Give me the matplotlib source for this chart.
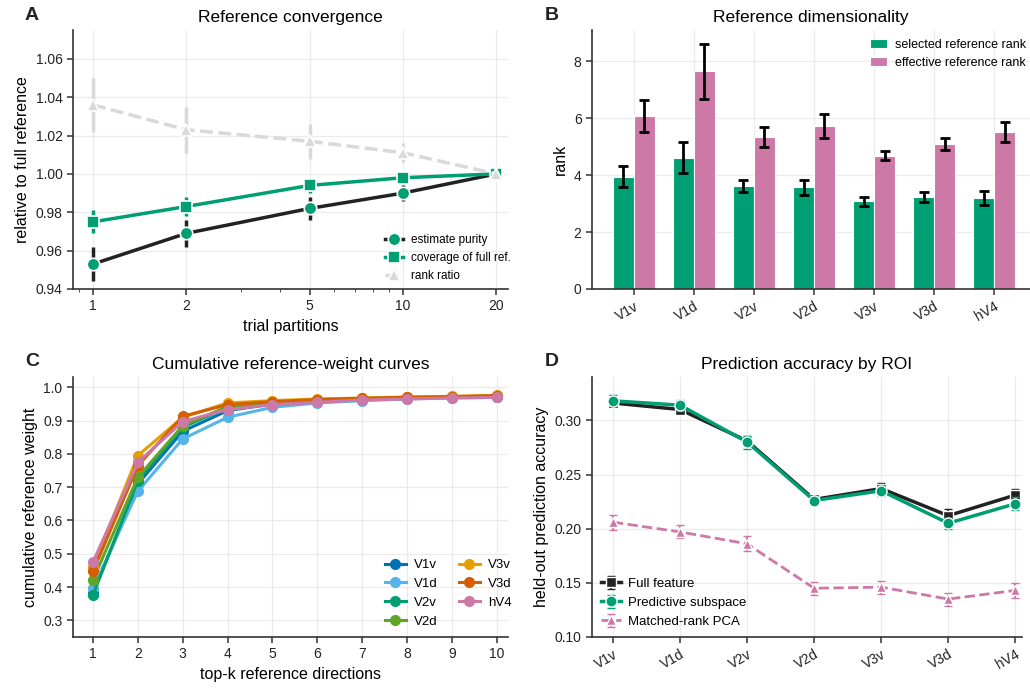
import numpy as np
import matplotlib
matplotlib.use("Agg")
import matplotlib.pyplot as plt
from matplotlib.ticker import FixedLocator, NullFormatter

# Data
partitions = [1, 2, 5, 10, 20]
purity = [0.953, 0.969, 0.982, 0.990, 1.000]
purity_err = [0.009, 0.007, 0.006, 0.004, 0.0]
coverage = [0.975, 0.983, 0.994, 0.998, 1.000]
coverage_err = [0.006, 0.005, 0.004, 0.002, 0.0]
rank_ratio = [1.036, 1.023, 1.017, 1.011, 1.000]
rank_ratio_err = [0.014, 0.012, 0.009, 0.005, 0.0]

rois = ["V1v", "V1d", "V2v", "V2d", "V3v", "V3d", "hV4"]
selected_rank = [3.95, 4.62, 3.62, 3.57, 3.08, 3.22, 3.20]
selected_err = [0.38, 0.55, 0.20, 0.26, 0.16, 0.18, 0.24]
effective_rank = [6.08, 7.65, 5.33, 5.73, 4.68, 5.10, 5.50]
effective_err = [0.55, 0.97, 0.35, 0.42, 0.16, 0.20, 0.35]

topk = list(range(1, 11))
cum_weight = {
    "V1v": [0.382, 0.710, 0.868, 0.930, 0.950, 0.958, 0.963, 0.967, 0.970, 0.972],
    "V1d": [0.397, 0.688, 0.845, 0.910, 0.940, 0.953, 0.960, 0.965, 0.968, 0.970],
    "V2v": [0.377, 0.720, 0.880, 0.940, 0.952, 0.960, 0.965, 0.968, 0.970, 0.973],
    "V2d": [0.422, 0.730, 0.885, 0.942, 0.953, 0.960, 0.965, 0.968, 0.971, 0.973],
    "V3v": [0.460, 0.795, 0.910, 0.953, 0.960, 0.965, 0.968, 0.971, 0.973, 0.976],
    "V3d": [0.447, 0.765, 0.913, 0.948, 0.957, 0.963, 0.967, 0.970, 0.972, 0.975],
    "hV4": [0.475, 0.775, 0.897, 0.933, 0.948, 0.955, 0.962, 0.965, 0.968, 0.970],
}
roi_colors = ["#0072B2", "#56B4E9", "#009E73", "#5FA52A", "#E69F00", "#D55E00", "#CC79A7"]

full_feature = [0.316, 0.310, 0.281, 0.227, 0.237, 0.212, 0.231]
full_err = [0.004, 0.004, 0.005, 0.004, 0.005, 0.006, 0.006]
pred_subspace = [0.318, 0.314, 0.280, 0.226, 0.235, 0.205, 0.223]
pred_err = [0.005, 0.005, 0.006, 0.004, 0.005, 0.005, 0.006]
pca_rank = [0.206, 0.197, 0.186, 0.145, 0.146, 0.135, 0.143]
pca_err = [0.007, 0.006, 0.007, 0.006, 0.006, 0.006, 0.007]

GREEN = "#009E73"
PINK = "#CC79A7"
DARK = "#222222"
LIGHT = "#d9d9d9"

plt.rcParams["font.family"] = ["Liberation Sans", "DejaVu Sans"]
plt.rcParams["axes.edgecolor"] = "#333333"
plt.rcParams["axes.linewidth"] = 1.2
plt.rcParams["xtick.color"] = "#333333"
plt.rcParams["ytick.color"] = "#333333"
plt.rcParams["xtick.labelcolor"] = "#222222"
plt.rcParams["ytick.labelcolor"] = "#222222"
plt.rcParams["xtick.labelsize"] = 10
plt.rcParams["ytick.labelsize"] = 10


def style_ax(ax):
    ax.spines["top"].set_visible(False)
    ax.spines["right"].set_visible(False)
    ax.grid(True, color="#ebebeb", linewidth=0.9)
    ax.set_axisbelow(True)
    ax.tick_params(length=4, width=1.1)


fig = plt.figure(figsize=(10.3, 6.9), dpi=100)
W, H = 1030, 690


def add_ax(l, t, r, b):
    return fig.add_axes([l / W, 1 - b / H, (r - l) / W, (b - t) / H])


axA = add_ax(73, 30, 508, 289)
axB = add_ax(592, 30, 1030, 289)
axC = add_ax(73, 377, 508, 637)
axD = add_ax(592, 377, 1022, 637)

for ax in (axA, axB, axC, axD):
    style_ax(ax)

# Panel A
axA.errorbar(partitions, purity, yerr=purity_err, color=DARK, ls="-", lw=2.5,
             marker="o", ms=9, mfc=GREEN, mec="white", mew=1.2, elinewidth=2.5,
             capsize=0, label="estimate purity", zorder=3)
axA.errorbar(partitions, coverage, yerr=coverage_err, color=GREEN, ls="-", lw=2.5,
             marker="s", ms=9, mfc=GREEN, mec="white", mew=1.2, elinewidth=2.5,
             capsize=0, label="coverage of full ref.", zorder=4)
axA.errorbar(partitions, rank_ratio, yerr=rank_ratio_err, color=LIGHT, ls="--", lw=2.5,
             marker="^", ms=8, mfc=LIGHT, mec="white", mew=1.2, elinewidth=2.5,
             capsize=0, label="rank ratio", zorder=5)
axA.set_xscale("log")
axA.set_xlim(0.862, 21.8)
axA.xaxis.set_major_locator(FixedLocator(partitions))
axA.set_xticklabels([str(p) for p in partitions])
axA.xaxis.set_minor_formatter(NullFormatter())
axA.set_ylim(0.94, 1.075)
axA.set_yticks([0.94, 0.96, 0.98, 1.00, 1.02, 1.04, 1.06])
axA.set_yticklabels(["0.94", "0.96", "0.98", "1.00", "1.02", "1.04", "1.06"])
axA.set_xlabel("trial partitions", fontsize=11.5)
axA.set_ylabel("relative to full reference", fontsize=11.5)
axA.set_title("Reference convergence", fontsize=12.5)
axA.legend(loc="lower right", bbox_to_anchor=(1.03, -0.015), frameon=False,
           fontsize=8.5, handlelength=1.6, handletextpad=0.6)

# Panel B
xb = np.arange(len(rois))
bw = 0.35
axB.bar(xb - bw / 2, selected_rank, bw, color=GREEN, edgecolor="white", lw=0.8,
        label="selected reference rank", zorder=2)
axB.bar(xb + bw / 2, effective_rank, bw, color=PINK, edgecolor="white", lw=0.8,
        label="effective reference rank", zorder=2)
axB.errorbar(xb - bw / 2, selected_rank, yerr=selected_err, fmt="none", ecolor="black",
             elinewidth=2, capsize=3.5, capthick=2, zorder=3)
axB.errorbar(xb + bw / 2, effective_rank, yerr=effective_err, fmt="none", ecolor="black",
             elinewidth=2, capsize=3.5, capthick=2, zorder=3)
axB.set_xticks(xb)
axB.set_xticklabels(rois, rotation=30, ha="right", rotation_mode="anchor")
axB.set_xlim(-0.7, 6.6)
axB.set_ylim(0, 9.1)
axB.set_yticks([0, 2, 4, 6, 8])
axB.set_ylabel("rank", fontsize=11.5)
axB.set_title("Reference dimensionality", fontsize=12.5)
axB.legend(loc="upper right", frameon=False, fontsize=9, handlelength=1.4,
           handletextpad=0.6, borderaxespad=0.3, bbox_to_anchor=(1.01, 1.0))

# Panel C
for roi, col in zip(rois, roi_colors):
    axC.plot(topk, cum_weight[roi], color=col, lw=2.2, marker="o", ms=7, label=roi)
axC.set_xticks(topk)
axC.set_xlim(0.554, 10.25)
axC.set_ylim(0.25, 1.031)
axC.set_yticks([0.3, 0.4, 0.5, 0.6, 0.7, 0.8, 0.9, 1.0])
axC.set_xlabel("top-k reference directions", fontsize=11.5)
axC.set_ylabel("cumulative reference weight", fontsize=11.5)
axC.set_title("Cumulative reference-weight curves", fontsize=12.5)
axC.legend(loc="lower right", bbox_to_anchor=(1.035, -0.01), ncol=2, frameon=False,
           fontsize=9.5, handlelength=1.6, handletextpad=0.6, columnspacing=1.6)

# Panel D
xd = np.arange(len(rois))
axD.errorbar(xd, full_feature, yerr=full_err, color=DARK, lw=2.5, marker="s", ms=7,
             mfc=DARK, mec="white", mew=1.0, elinewidth=1.5, capsize=3, capthick=1.5,
             label="Full feature", zorder=3)
axD.errorbar(xd, pred_subspace, yerr=pred_err, color=GREEN, lw=2.5, marker="o", ms=8,
             mfc=GREEN, mec="white", mew=1.0, elinewidth=1.5, capsize=3, capthick=1.5,
             label="Predictive subspace", zorder=4)
axD.errorbar(xd, pca_rank, yerr=pca_err, color=PINK, lw=2.0, ls="--", marker="^", ms=7,
             mfc=PINK, mec="white", mew=1.0, elinewidth=1.5, capsize=3, capthick=1.5,
             label="Matched-rank PCA", zorder=2)
axD.set_xticks(xd)
axD.set_xticklabels(rois, rotation=30, ha="right", rotation_mode="anchor")
axD.set_xlim(-0.313, 6.1)
axD.set_ylim(0.1, 0.34)
axD.set_yticks([0.10, 0.15, 0.20, 0.25, 0.30])
axD.set_yticklabels(["0.10", "0.15", "0.20", "0.25", "0.30"])
axD.set_ylabel("held-out prediction accuracy", fontsize=11.5)
axD.set_title("Prediction accuracy by ROI", fontsize=12.5)
axD.legend(loc="lower left", frameon=False, fontsize=9.5, handlelength=1.5,
           handletextpad=0.5, borderaxespad=0.3)

# Panel letters
for lab, (px, py) in zip("ABCD", [(25, 24), (545, 24), (25, 370), (545, 370)]):
    fig.text(px / W, 1 - py / H, lab, fontsize=14, fontweight="bold", color="#222222",
             ha="left", va="bottom")

fig.savefig("out.png", dpi=100)
